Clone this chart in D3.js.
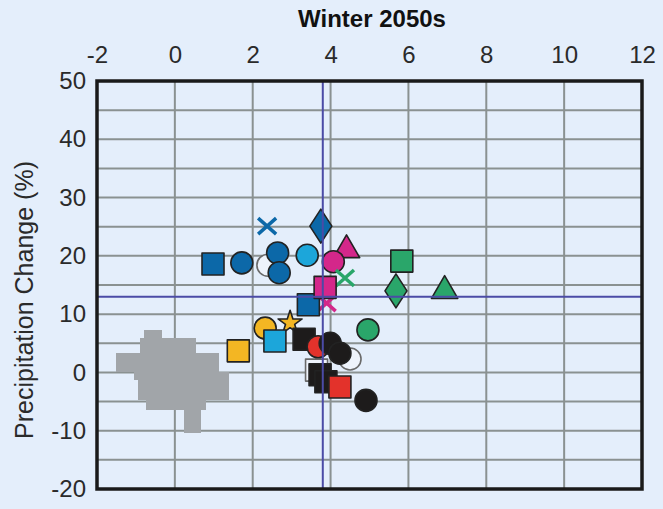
<!DOCTYPE html>
<html>
<head>
<meta charset="utf-8">
<script src="https://cdn.jsdelivr.net/npm/d3@7"></script>
<style>
  html, body { margin: 0; padding: 0; background: #e4eefb; }
  svg { display: block; font-family: "Liberation Sans", Arial, Helvetica, sans-serif; }
</style>
</head>
<body>
<div class="container"></div>
<script>
const width = 663;
const height = 509;

// model results, drawing order (back to front)
const warming = [2.39, 4.50, 3.64, 2.37, 3.75, 4.41, 0.98, 1.72, 2.64, 2.68, 3.40, 4.07, 4.37, 3.90, 3.43, 3.86,
  5.83, 5.68, 6.93, 4.96, 2.32, 2.96, 1.63, 2.57, 3.32, 3.68, 3.99, 4.24, 3.73, 3.88, 4.24, 4.91];
const precip = [18.4, 2.3, 0.4, 25.1, 25.1, 21.0, 18.6, 18.8, 20.5, 17.1, 20.1, 19.0, 16.2, 11.9, 11.6, 14.6,
  19.1, 14.0, 14.0, 7.3, 7.6, 8.5, 3.7, 5.4, 5.7, 4.4, 5.0, 3.3, -0.4, -1.6, -2.5, -4.8];
const family = ['open', 'open', 'open', 'blue', 'blue', 'magenta', 'blue', 'blue', 'blue', 'blue', 'cyan', 'magenta',
  'green', 'magenta', 'blue', 'magenta', 'green', 'green', 'green', 'green', 'yellow', 'yellow', 'yellow', 'cyan',
  'black', 'red', 'black', 'black', 'black', 'black', 'red', 'black'];
const marker = ['circle', 'circle', 'square', 'x', 'diamond', 'triangle', 'square', 'circle', 'circle', 'circle',
  'circle', 'circle', 'x', 'x', 'square', 'square', 'square', 'diamond', 'triangle', 'circle', 'circle', 'star',
  'square', 'square', 'square', 'circle', 'circle', 'circle', 'square', 'square', 'square', 'circle'];

// ensemble mean
const meanWarming = 3.8;
const meanPrecip = 13;

// natural variability cloud: [precip top, precip bottom, warming left, warming right]
const noiseRows = [
  [7.3, 5.9, -0.79, -0.33],
  [5.9, 3.3, -0.9, 0.54],
  [3.3, 0.1, -1.51, 1.13],
  [0.1, -1.3, -1.05, 1.38],
  [-1.3, -4.7, -0.95, 1.38],
  [-4.7, -6.4, -0.74, 0.79],
  [-6.4, -10.4, 0.23, 0.67],
];

const xTicks = [-2, 0, 2, 4, 6, 8, 10, 12];
const yTicks = [-20, -10, 0, 10, 20, 30, 40, 50];

const colors = {
  open: '#eef3fb', blue: '#0c68a8', cyan: '#1ca6da', magenta: '#d4278a',
  green: '#2aa66a', yellow: '#f3b623', red: '#e3322b', black: '#1d1b1b',
};

const plotLeft = 97, plotRight = 642, plotTop = 81, plotBottom = 489;

const x = d3.scaleLinear().domain([-2, 12]).range([plotLeft, plotRight]);
const y = d3.scaleLinear().domain([-20, 50]).range([plotBottom, plotTop]);

const svg = d3.select('.container')
  .append('svg')
  .attr('width', width)
  .attr('height', height);

svg.append('rect')
  .attr('width', width)
  .attr('height', height)
  .attr('fill', '#e4eefb');

// grid
const grid = svg.append('g')
  .attr('stroke', '#8a9191')
  .attr('stroke-width', 2);

grid.selectAll('.vx')
  .data(d3.range(0, 12, 2))
  .enter()
  .append('line')
  .attr('x1', d => x(d))
  .attr('x2', d => x(d))
  .attr('y1', plotTop)
  .attr('y2', plotBottom);

grid.selectAll('.hy')
  .data(d3.range(-15, 50, 5))
  .enter()
  .append('line')
  .attr('x1', plotLeft)
  .attr('x2', plotRight)
  .attr('y1', d => y(d))
  .attr('y2', d => y(d));

// variability cloud
svg.append('g')
  .selectAll('rect')
  .data(noiseRows)
  .enter()
  .append('rect')
  .attr('x', d => x(d[2]))
  .attr('y', d => y(d[0]))
  .attr('width', d => x(d[3]) - x(d[2]))
  .attr('height', d => y(d[1]) - y(d[0]))
  .attr('fill', '#a1a5a9')
  .attr('shape-rendering', 'crispEdges');

// markers
const symbolPath = {
  circle: d3.symbol(d3.symbolCircle, 380)(),
  square: d3.symbol(d3.symbolSquare, 484)(),
  triangle: d3.symbol(d3.symbolTriangle, 300)(),
  star: d3.symbol(d3.symbolStar, 180)(),
  diamond: 'M0,-17L11,0L0,17L-11,0Z',
  x: 'M-9,-8L9,8M-9,8L9,-8',
};

const points = warming.map((w, i) => ({ w, p: precip[i], fam: family[i], kind: marker[i] }));

svg.append('g')
  .selectAll('path')
  .data(points)
  .enter()
  .append('path')
  .attr('transform', d => `translate(${x(d.w)},${y(d.p)})`)
  .attr('d', d => symbolPath[d.kind])
  .attr('fill', d => (d.kind === 'x' ? 'none' : colors[d.fam]))
  .attr('stroke', d => {
    if (d.kind === 'x') return colors[d.fam];
    return d.fam === 'open' ? '#6a6a6a' : '#222';
  })
  .attr('stroke-width', d => (d.kind === 'x' ? 3.5 : 1.6))
  .attr('stroke-linejoin', 'round');

// mean lines
const mean = svg.append('g')
  .attr('stroke', '#4b4ba6')
  .attr('stroke-width', 2);

mean.append('line')
  .attr('x1', x(meanWarming))
  .attr('x2', x(meanWarming))
  .attr('y1', plotTop)
  .attr('y2', plotBottom);

mean.append('line')
  .attr('x1', plotLeft)
  .attr('x2', plotRight)
  .attr('y1', y(meanPrecip))
  .attr('y2', y(meanPrecip));

// frame
svg.append('rect')
  .attr('x', plotLeft)
  .attr('y', plotTop)
  .attr('width', plotRight - plotLeft)
  .attr('height', plotBottom - plotTop)
  .attr('fill', 'none')
  .attr('stroke', '#1a1a1a')
  .attr('stroke-width', 3.5);

// axes
const xAxis = svg.append('g')
  .attr('transform', `translate(0,${plotTop})`)
  .call(d3.axisTop(x).tickValues(xTicks).tickSize(0).tickPadding(18).tickFormat(d => String(d)));

const yAxis = svg.append('g')
  .attr('transform', `translate(${plotLeft},0)`)
  .call(d3.axisLeft(y).tickValues(yTicks).tickSize(0).tickPadding(11).tickFormat(d => String(d)));

[xAxis, yAxis].forEach(a => {
  a.select('.domain').remove();
  a.selectAll('text')
    .attr('font-size', 24)
    .attr('fill', '#2a2a2a')
    .attr('font-family', '"Liberation Sans", Arial, sans-serif');
});

svg.append('text')
  .attr('x', 372)
  .attr('y', 27)
  .attr('text-anchor', 'middle')
  .attr('font-size', 24)
  .attr('font-weight', 'bold')
  .attr('fill', '#111')
  .text('Winter 2050s');

svg.append('text')
  .attr('transform', `translate(33,${(plotTop + plotBottom) / 2 + 15}) rotate(-90)`)
  .attr('text-anchor', 'middle')
  .attr('font-size', 25)
  .attr('fill', '#2a2a2a')
  .text('Precipitation Change (%)');
</script>
</body>
</html>
